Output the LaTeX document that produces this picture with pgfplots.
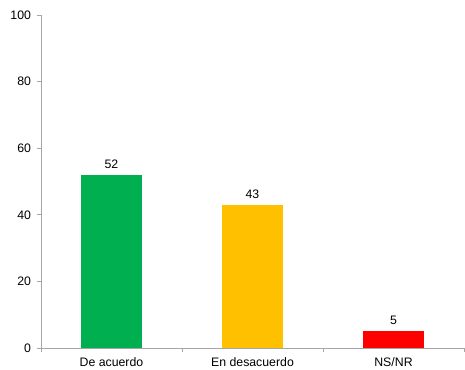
\documentclass[border=0pt]{standalone}
\usepackage{pgfplots}
\pgfplotsset{compat=1.18}
\usepackage{fontspec}
\setmainfont{Liberation Sans}
\definecolor{cgreen}{HTML}{00B050}
\definecolor{cyellow}{HTML}{FFC000}
\definecolor{cred}{HTML}{FF0000}
\definecolor{axgray}{HTML}{A6A6A6}
\begin{document}
\begin{tikzpicture}
\useasboundingbox (-41bp,-22bp) rectangle (424bp,348bp);
\begin{axis}[
  anchor=south west, at={(0,0)},
  scale only axis, width=423bp, height=333bp,
  xmin=-0.5, xmax=2.5, ymin=0, ymax=100,
  axis x line*=bottom, axis y line*=left,
  axis line style={axgray, line width=0.8bp, -},
  every tick/.style={axgray, line width=0.8bp},
  tick align=outside,
  xtick={0,1,2},
  xticklabels={De acuerdo, En desacuerdo, NS/NR},
  major x tick style={draw=none},
  minor xtick={-0.5,0.5,1.5,2.5},
  minor tick length=4bp,
  major tick length=4bp,
  ytick={0,20,40,60,80,100},
  font=\fontsize{12.3bp}{14bp}\selectfont,
  tick label style={font=\fontsize{12.3bp}{14bp}\selectfont, text=black},
  xticklabel style={yshift=-2.5bp},
  yticklabel style={xshift=-2.5bp},
  /pgf/number format/assume math mode=true,
  ybar, bar width=0.43, bar shift=0pt,
  nodes near coords,
  nodes near coords style={font=\fontsize{12.3bp}{14bp}\selectfont, text=black, yshift=3bp},
  clip=false,
]
\addplot[fill=cgreen, draw=none] coordinates {(0,52)};
\addplot[fill=cyellow, draw=none] coordinates {(1,43)};
\addplot[fill=cred, draw=none] coordinates {(2,5)};
\end{axis}
\end{tikzpicture}
\end{document}
